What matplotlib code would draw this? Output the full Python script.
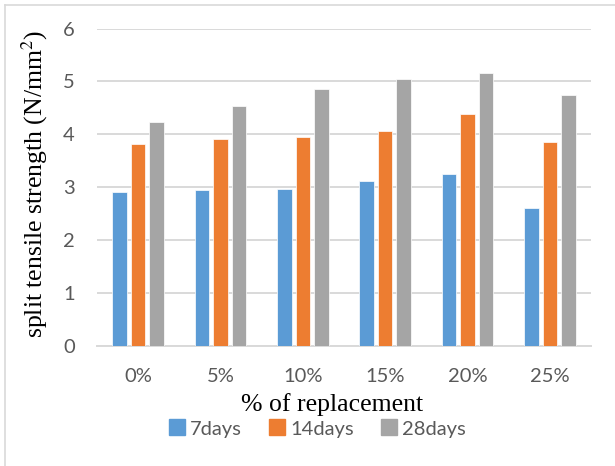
import numpy as np
import matplotlib
matplotlib.use("Agg")
import matplotlib.pyplot as plt
from matplotlib.lines import Line2D

categories = ["0%", "5%", "10%", "15%", "20%", "25%"]
days7 = [2.91, 2.95, 2.97, 3.11, 3.24, 2.60]
days14 = [3.81, 3.91, 3.95, 4.07, 4.39, 3.86]
days28 = [4.24, 4.53, 4.86, 5.04, 5.17, 4.74]
series_names = ["7days", "14days", "28days"]
colors = ["#5B9BD5", "#ED7D31", "#A5A5A5"]

tick_font = "Lato"
label_font = "Liberation Serif"
tick_color = "#595959"
grid_color = "#D9D9D9"


def main():
    fig = plt.figure(figsize=(6.15, 4.66), dpi=100)
    ax = fig.add_axes([0.1577, 0.2582, 0.8033, 0.6803])

    x = np.arange(len(categories))
    width = 0.176
    step = 0.225
    for i, (vals, name) in enumerate(zip([days7, days14, days28], series_names)):
        ax.bar(x + (i - 1) * step, vals, width, color=colors[i],
               edgecolor="white", linewidth=0.5, label=name, zorder=3)

    ax.set_xlim(-0.5, len(categories) - 0.5)
    ax.set_ylim(0, 6)
    ax.set_yticks(range(0, 7))
    ax.set_xticks(x)
    ax.set_xticklabels(categories)
    ax.yaxis.grid(True, color=grid_color, linewidth=1.4, zorder=0)
    ax.set_axisbelow(True)
    for side in ["top", "right", "left"]:
        ax.spines[side].set_visible(False)
    ax.spines["bottom"].set_color(grid_color)
    ax.spines["bottom"].set_linewidth(1.4)
    ax.tick_params(axis="both", length=0, labelcolor=tick_color, labelsize=14.5)
    ax.tick_params(axis="x", pad=16)
    ax.tick_params(axis="y", pad=16)
    for lab in ax.get_xticklabels() + ax.get_yticklabels():
        lab.set_fontfamily(tick_font)

    fig.text(35 / 615, 0.605, "split tensile strength (N/mm$^2$)",
             rotation=90, ha="center", va="center", fontsize=18.5,
             family=label_font, math_fontfamily="stix")
    fig.text(0.540, 0.131, "% of replacement", ha="center", va="center",
             fontsize=18.5, family=label_font)

    handles = [Line2D([], [], marker="s", linestyle="none", markersize=11,
                      markerfacecolor=c, markeredgecolor=c) for c in colors]
    leg = fig.legend(handles, series_names, loc="center",
                     bbox_to_anchor=(318 / 615, 0.0794), ncol=3, frameon=False,
                     handlelength=0.7, handletextpad=0.3, columnspacing=1.4,
                     prop={"family": tick_font, "size": 14.5})
    for t in leg.get_texts():
        t.set_color(tick_color)

    # light frame along the top and left edges
    fig.add_artist(Line2D([5 / 615, 1.0], [1 - 5 / 466, 1 - 5 / 466],
                          transform=fig.transFigure, color=grid_color, lw=1.2))
    fig.add_artist(Line2D([5 / 615, 5 / 615], [0, 1 - 5 / 466],
                          transform=fig.transFigure, color=grid_color, lw=1.2))

    fig.savefig("out.png", dpi=100)


if __name__ == "__main__":
    main()
